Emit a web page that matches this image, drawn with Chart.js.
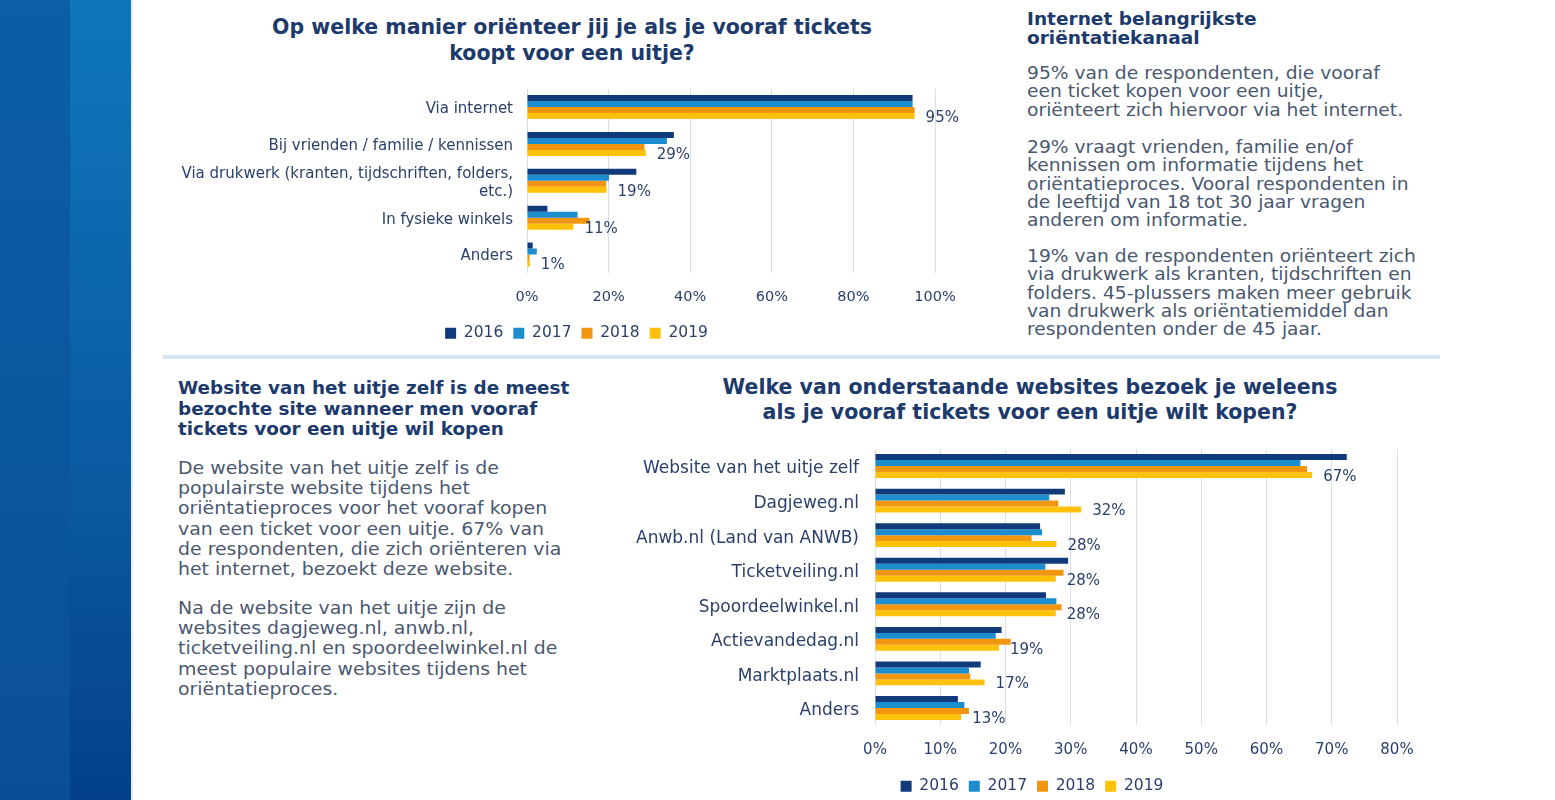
<!DOCTYPE html>
<html>
<head>
<meta charset="utf-8">
<script src="https://cdn.jsdelivr.net/npm/chart.js@4.4.0/dist/chart.umd.min.js"></script>
<style>
  body { margin: 0; width: 1555px; height: 800px; background: #fff; position: relative; overflow: hidden; font-family: "DejaVu Sans", Verdana, sans-serif; }
  .band1 { position: absolute; left: 0; top: 0; width: 70px; height: 800px; background: linear-gradient(#0b5fa7, #0a4f95); }
  .band2 { position: absolute; left: 70px; top: 0; width: 61px; height: 800px; background: linear-gradient(#0f76bc, #0a5aa0 60%, #04408a); }
  .edge { position: absolute; left: 131px; top: 0; width: 2px; height: 800px; background: #e6eef6; }
  .sep { position: absolute; left: 163px; top: 355px; width: 1277px; height: 4px; background: #d5e6f2; }
  .txt { position: absolute; white-space: nowrap; transform-origin: left top; }
  .title { color: #1d3a6c; font-weight: bold; text-align: center; transform-origin: center top; }
  .head { color: #1d3a6c; font-weight: bold; }
  .body { color: #4a5870; }
  canvas { position: absolute; }
</style>
</head>
<body>
<div class="band1"></div><div class="band2"></div><div class="edge"></div>
<div class="sep"></div>

<div class="txt title" style="left:172px;top:14px;width:800px;font-size:20.5px;line-height:26px;">Op welke manier oriënteer jij je als je vooraf tickets<br>koopt voor een uitje?</div>

<div class="txt head" style="left:1027px;top:10px;font-size:17px;line-height:19px;transform:scaleX(1.09);">Internet belangrijkste<br>oriëntatiekanaal</div>
<div class="txt body" style="left:1027px;top:64px;font-size:17px;line-height:18.3px;transform:scaleX(1.1);">95% van de respondenten, die vooraf<br>een ticket kopen voor een uitje,<br>oriënteert zich hiervoor via het internet.</div>
<div class="txt body" style="left:1027px;top:138px;font-size:17px;line-height:18.3px;transform:scaleX(1.1);">29% vraagt vrienden, familie en/of<br>kennissen om informatie tijdens het<br>oriëntatieproces. Vooral respondenten in<br>de leeftijd van 18 tot 30 jaar vragen<br>anderen om informatie.</div>
<div class="txt body" style="left:1027px;top:247px;font-size:17px;line-height:18.3px;transform:scaleX(1.1);">19% van de respondenten oriënteert zich<br>via drukwerk als kranten, tijdschriften en<br>folders. 45-plussers maken meer gebruik<br>van drukwerk als oriëntatiemiddel dan<br>respondenten onder de 45 jaar.</div>

<div class="txt head" style="left:178px;top:378px;font-size:17.5px;line-height:20.5px;transform:scaleX(1.05);">Website van het uitje zelf is de meest<br>bezochte site wanneer men vooraf<br>tickets voor een uitje wil kopen</div>
<div class="txt body" style="left:178px;top:458px;font-size:17.5px;line-height:20.2px;transform:scaleX(1.08);">De website van het uitje zelf is de<br>populairste website tijdens het<br>oriëntatieproces voor het vooraf kopen<br>van een ticket voor een uitje. 67% van<br>de respondenten, die zich oriënteren via<br>het internet, bezoekt deze website.</div>
<div class="txt body" style="left:178px;top:598px;font-size:17.5px;line-height:20.2px;transform:scaleX(1.08);">Na de website van het uitje zijn de<br>websites dagjeweg.nl, anwb.nl,<br>ticketveiling.nl en spoordeelwinkel.nl de<br>meest populaire websites tijdens het<br>oriëntatieproces.</div>

<div class="txt title" style="left:630px;top:375px;width:800px;font-size:20.5px;line-height:25px;">Welke van onderstaande websites bezoek je weleens<br>als je vooraf tickets voor een uitje wilt kopen?</div>

<canvas id="chartTop" style="left:160px;top:80px;" width="830" height="271"></canvas>
<canvas id="chartBottom" style="left:607px;top:440px;" width="850" height="364"></canvas>

<script>
const years = ['2016', '2017', '2018', '2019'];
const yearColors = ['#113a7a', '#1c8dcf', '#f2960f', '#ffc10a'];

// bovenste grafiek: orientatie
const q1Labels = ['Via internet', 'Bij vrienden / familie / kennissen', ['Via drukwerk (kranten, tijdschriften, folders,', 'etc.)'], 'In fysieke winkels', 'Anders'];
const q1_2016 = [94.5, 36.0, 26.8, 5.0, 1.4];
const q1_2017 = [94.5, 34.3, 20.1, 12.4, 2.4];
const q1_2018 = [95.0, 28.8, 19.4, 15.3, 0.6];
const q1_2019 = [95.0, 29.1, 19.5, 11.4, 0.7];
const q1Totals = ['95%', '29%', '19%', '11%', '1%'];

// onderste grafiek: websites
const q2Labels = ['Website van het uitje zelf', 'Dagjeweg.nl', 'Anwb.nl (Land van ANWB)', 'Ticketveiling.nl', 'Spoordeelwinkel.nl', 'Actievandedag.nl', 'Marktplaats.nl', 'Anders'];
const q2_2016 = [72.3, 29.1, 25.3, 29.6, 26.2, 19.4, 16.2, 12.7];
const q2_2017 = [65.2, 26.7, 25.6, 26.1, 27.8, 18.5, 14.4, 13.7];
const q2_2018 = [66.2, 28.1, 24.0, 28.9, 28.6, 20.8, 14.6, 14.4];
const q2_2019 = [67.0, 31.6, 27.8, 27.7, 27.7, 19.0, 16.8, 13.2];
const q2Totals = ['67%', '32%', '28%', '28%', '28%', '19%', '17%', '13%'];

const labelColor = '#2a3f6a';
const fontFamily = '"DejaVu Sans", Verdana, sans-serif';

// zet het percentage achter de laatste balk (2019)
const totalsPlugin = {
    id: 'totals',
    afterDatasetsDraw(chart) {
        const totals = chart.options.plugins.totals.values;
        const meta = chart.getDatasetMeta(chart.data.datasets.length - 1);
        const ctx = chart.ctx;
        ctx.save();
        ctx.font = chart.options.plugins.totals.size + 'px ' + fontFamily;
        ctx.fillStyle = labelColor;
        ctx.textAlign = 'left';
        ctx.textBaseline = 'middle';
        meta.data.forEach(function (bar, i) {
            ctx.fillText(totals[i], bar.x + 11, bar.y + 2);
        });
        ctx.restore();
    }
};

// legenda iets opschuiven zodat hij onder de titel staat
const legendShiftPlugin = {
    id: 'legendShift',
    afterLayout(chart) {
        const dx = chart.options.plugins.legendShift.dx;
        if (chart.legend) {
            chart.legend.left += dx;
            chart.legend.right += dx;
        }
    }
};

function make_chart(id, labels, series, totals, o) {
    const ctx = document.getElementById(id).getContext('2d');
    return new Chart(ctx, {
        type: 'bar',
        data: {
            labels: labels,
            datasets: series.map(function (d, i) {
                return {
                    label: years[i],
                    data: d,
                    backgroundColor: yearColors[i],
                    borderWidth: 0,
                    barPercentage: 1,
                    categoryPercentage: o.catPct
                };
            })
        },
        options: {
            indexAxis: 'y',
            responsive: false,
            animation: false,
            layout: { padding: { top: o.padTop, right: o.padRight, left: 0, bottom: 0 } },
            scales: {
                x: {
                    min: 0,
                    max: o.max,
                    afterFit: function (scale) {
                        scale.height = o.xHeight;
                        scale.paddingLeft = 0;
                        scale.paddingRight = 0;
                    },
                    ticks: {
                        stepSize: o.step,
                        padding: o.tickPad,
                        color: labelColor,
                        font: { family: fontFamily, size: o.tickSize },
                        callback: function (v) { return v + '%'; }
                    },
                    grid: { color: '#d8dfe9', drawTicks: false },
                    border: { display: false }
                },
                y: {
                    afterFit: function (scale) {
                        scale.width = o.yWidth;
                        scale.paddingTop = 0;
                        scale.paddingBottom = 0;
                    },
                    ticks: {
                        autoSkip: false,
                        padding: o.labelPad,
                        labelOffset: o.labelShift,
                        color: labelColor,
                        font: { family: fontFamily, size: o.labelSize }
                    },
                    grid: { display: false, drawTicks: false },
                    border: { display: false }
                }
            },
            plugins: {
                legend: {
                    position: 'bottom',
                    labels: {
                        boxWidth: 11,
                        boxHeight: 11,
                        padding: 10,
                        color: labelColor,
                        font: { family: fontFamily, size: 15.5 }
                    }
                },
                tooltip: { enabled: false },
                totals: { values: totals, size: o.totalSize },
                legendShift: { dx: o.legendDx }
            }
        },
        plugins: [totalsPlugin, legendShiftPlugin]
    });
}

make_chart('chartTop', q1Labels, [q1_2016, q1_2017, q1_2018, q1_2019], q1Totals, {
    catPct: 0.65, padTop: 8.6, padRight: 55, yWidth: 367, xHeight: 42.5, max: 100, step: 20,
    tickPad: 15.3, tickSize: 14.5, labelPad: 14, labelShift: 2, labelSize: 15, totalSize: 15, legendDx: 29
});

make_chart('chartBottom', q2Labels, [q2_2016, q2_2017, q2_2018, q2_2019], q2Totals, {
    catPct: 0.69, padTop: 8.7, padRight: 60, yWidth: 268, xHeight: 43.2, max: 80, step: 10,
    tickPad: 15.7, tickSize: 15, labelPad: 16, labelShift: 3, labelSize: 17, totalSize: 15, legendDx: 30
});
</script>
</body>
</html>
